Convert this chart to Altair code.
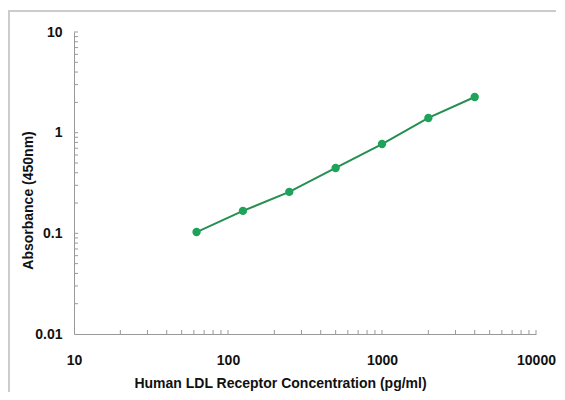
import altair as alt
import pandas as pd

# Standard curve data
concentration = [62.5, 125, 250, 500, 1000, 2000, 4000]
absorbance = [0.103, 0.167, 0.258, 0.446, 0.771, 1.40, 2.26]

x_major = [10, 100, 1000, 10000]
y_major = [0.01, 0.1, 1, 10]
x_minor = [m * d for d in (10, 100, 1000) for m in range(2, 11)]
y_minor = [m * d for d in (0.01, 0.1, 1) for m in range(2, 11)]

df = pd.DataFrame({"conc": concentration, "abs": absorbance})
xt = pd.DataFrame({"t": x_minor})
yt = pd.DataFrame({"t": y_minor})

W, H = 462, 302
FONT = "Liberation Sans"

xscale = alt.Scale(type="log", domain=[10, 10000])
yscale = alt.Scale(type="log", domain=[0.01, 10])

x_axis = alt.Axis(
    values=x_major, labelExpr="datum.value", tickSize=0,
    labelFlush=False, labelPadding=19, labelFontSize=14, labelFont=FONT,
    labelFontWeight="bold", labelColor="#111", domainColor="#999",
    grid=False, title="Human LDL Receptor Concentration (pg/ml)",
    titleFont=FONT, titleFontSize=14, titleFontWeight="bold", titleColor="#111",
    titleX=206, titleY=49, titleBaseline="middle", titleAlign="center",
)
y_axis = alt.Axis(
    values=y_major, labelExpr="datum.value", tickSize=0,
    labelFlush=False, labelPadding=12, labelFontSize=14, labelFont=FONT,
    labelFontWeight="bold", labelColor="#111", domainColor="#999",
    grid=False, title="Absorbance (450nm)",
    titleFont=FONT, titleFontSize=14, titleFontWeight="bold", titleColor="#111",
    titleX=-46, titleY=168, titleBaseline="middle", titleAlign="center", titleAngle=-90,
)

base = alt.Chart(df)

line = base.mark_line(color="#258f52", strokeWidth=2).encode(
    x=alt.X("conc:Q", scale=xscale, axis=x_axis),
    y=alt.Y("abs:Q", scale=yscale, axis=y_axis),
)
points = base.mark_circle(color="#1fa35a", opacity=1, size=70).encode(
    x=alt.X("conc:Q", scale=xscale),
    y=alt.Y("abs:Q", scale=yscale),
)

xticks = alt.Chart(xt).mark_rule(color="#999", strokeWidth=1).encode(
    x=alt.X("t:Q", scale=xscale), y=alt.value(H), y2=alt.value(H - 4)
)
yticks = alt.Chart(yt).mark_rule(color="#999", strokeWidth=1).encode(
    y=alt.Y("t:Q", scale=yscale), x=alt.value(0), x2=alt.value(4)
)

frame = alt.Chart(pd.DataFrame({"a": [0]})).mark_rect(
    fill=None, stroke="#cccccc", strokeWidth=2
).encode(x=alt.value(-65), x2=alt.value(W + 120), y=alt.value(-21), y2=alt.value(H + 120))

chart = alt.layer(frame, xticks, yticks, line, points).properties(
    width=W, height=H,
    autosize=alt.AutoSizeParams(type="none"),
    padding={"left": 66, "top": 24, "right": 20, "bottom": 58},
).configure_view(stroke=None)

chart.save("out.html", embed_options={"renderer": "svg", "actions": False})
